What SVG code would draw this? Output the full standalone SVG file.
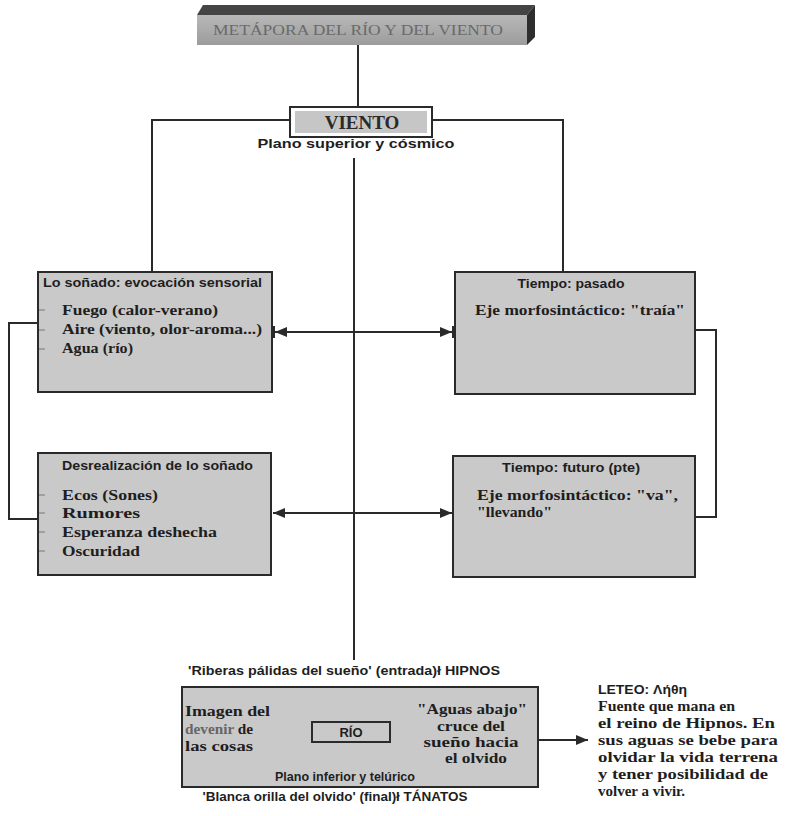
<svg xmlns="http://www.w3.org/2000/svg" width="785" height="816" viewBox="0 0 785 816">
<style>
.ln{stroke:#2a2a2a;stroke-width:2;fill:none}
.box{fill:#c9c9c9;stroke:#2a2a2a;stroke-width:2}
.tt{font-family:"Liberation Sans",Arial,sans-serif;font-size:13px;fill:#1e1e1e;font-weight:bold}
.it{font-family:"Liberation Serif","Times New Roman",serif;font-size:15px;font-weight:bold;fill:#1e1e1e}
.sn{font-family:"Liberation Sans",Arial,sans-serif;font-size:13px;fill:#1e1e1e;font-weight:bold}
.tick{stroke:#777;stroke-width:1}
</style>
<defs>
<marker id="ahb" viewBox="0 0 14 12" refX="14" refY="6" markerWidth="14" markerHeight="12" markerUnits="userSpaceOnUse" orient="auto-start-reverse">
<path d="M0,1 L12,6 L0,11 Z M12,0 H14 V12 H12 Z" fill="#2a2a2a"/>
</marker>
<marker id="ah" viewBox="0 0 12 10" refX="12" refY="5" markerWidth="12" markerHeight="10" markerUnits="userSpaceOnUse" orient="auto-start-reverse">
<path d="M0,0 L12,5 L0,10 Z" fill="#2a2a2a"/>
</marker>
<linearGradient id="bn" x1="0" y1="0" x2="0" y2="1">
<stop offset="0" stop-color="#b8b8b8"/><stop offset="1" stop-color="#9c9c9c"/>
</linearGradient>
</defs>

<g id="connectors">
<line class="ln" x1="358" y1="45" x2="358" y2="107"/>
<polyline class="ln" points="290,120 152,120 152,272"/>
<polyline class="ln" points="432,120 563,120 563,272"/>
<line class="ln" x1="354" y1="158" x2="354" y2="660"/>
<polyline class="ln" points="38,323 9,323 9,519 38,519"/>
<polyline class="ln" points="695,330 716,330 716,517 695,517"/>
<line class="ln" x1="273" y1="332" x2="454" y2="332" marker-start="url(#ahb)" marker-end="url(#ahb)"/>
<line class="ln" x1="273" y1="513" x2="452" y2="513" marker-start="url(#ah)" marker-end="url(#ah)"/>
<line class="ln" x1="312" y1="732" x2="283" y2="732" marker-end="url(#ah)"/>
<line class="ln" x1="390" y1="732" x2="427" y2="732" marker-end="url(#ah)"/>
<line class="ln" x1="538" y1="740" x2="588" y2="740" marker-end="url(#ah)"/>
</g>

<g id="titulo">
<polygon points="197,15 203,5 535,5 527,15" fill="#444"/>
<polygon points="527,15 535,5 535,37 527,45" fill="#2e2e2e"/>
<rect x="197" y="15" width="330" height="30" fill="url(#bn)"/>
<text x="358" y="35" text-anchor="middle" font-family="Liberation Serif,'Times New Roman',serif" font-size="15" fill="#6a6a6a" textLength="290" lengthAdjust="spacingAndGlyphs">METÁPORA DEL RÍO Y DEL VIENTO</text>
</g>

<g id="viento">
<rect x="290" y="107" width="142" height="30" fill="#fff" stroke="#2a2a2a" stroke-width="2"/>
<rect x="295" y="111" width="132" height="22" fill="#c6c6c6"/>
<text x="362" y="129" text-anchor="middle" font-family="Liberation Serif,'Times New Roman',serif" font-size="19" font-weight="bold" fill="#2a2a2a">VIENTO</text>
<text x="356" y="148" text-anchor="middle" class="sn" font-size="14" textLength="197" lengthAdjust="spacingAndGlyphs">Plano superior y cósmico</text>
</g>

<g id="sonado">
<rect class="box" x="38" y="272" width="234" height="120"/>
<text class="tt" x="43" y="287" textLength="219" lengthAdjust="spacingAndGlyphs">Lo soñado: evocación sensorial</text>
<line class="tick" x1="39" y1="310" x2="45" y2="310"/>
<line class="tick" x1="39" y1="330" x2="45" y2="330"/>
<line class="tick" x1="39" y1="349" x2="45" y2="349"/>
<text class="it" x="62" y="315" textLength="156" lengthAdjust="spacingAndGlyphs">Fuego (calor-verano)</text>
<text class="it" x="62" y="334" textLength="200" lengthAdjust="spacingAndGlyphs">Aire (viento, olor-aroma...)</text>
<text class="it" x="62" y="353" textLength="71" lengthAdjust="spacingAndGlyphs">Agua (río)</text>
</g>

<g id="desrealizacion">
<rect class="box" x="38" y="453" width="233" height="122"/>
<text class="tt" x="62" y="470" textLength="191" lengthAdjust="spacingAndGlyphs">Desrealización de lo soñado</text>
<line class="tick" x1="39" y1="495" x2="45" y2="495"/>
<line class="tick" x1="39" y1="513" x2="45" y2="513"/>
<line class="tick" x1="39" y1="532" x2="45" y2="532"/>
<line class="tick" x1="39" y1="551" x2="45" y2="551"/>
<text class="it" x="62" y="500" textLength="96" lengthAdjust="spacingAndGlyphs">Ecos (Sones)</text>
<text class="it" x="62" y="518" textLength="78" lengthAdjust="spacingAndGlyphs">Rumores</text>
<text class="it" x="62" y="537" textLength="155" lengthAdjust="spacingAndGlyphs">Esperanza deshecha</text>
<text class="it" x="62" y="556" textLength="78" lengthAdjust="spacingAndGlyphs">Oscuridad</text>
</g>

<g id="pasado">
<rect class="box" x="455" y="272" width="240" height="122"/>
<text class="tt" x="571" y="288" text-anchor="middle" textLength="107" lengthAdjust="spacingAndGlyphs">Tiempo: pasado</text>
<text class="it" x="475" y="315" textLength="210" lengthAdjust="spacingAndGlyphs">Eje morfosintáctico: "traía"</text>
</g>

<g id="futuro">
<rect class="box" x="453" y="456" width="242" height="121"/>
<text class="tt" x="571" y="472" text-anchor="middle" textLength="138" lengthAdjust="spacingAndGlyphs">Tiempo: futuro (pte)</text>
<text class="it" x="477" y="500" textLength="201" lengthAdjust="spacingAndGlyphs">Eje morfosintáctico: "va",</text>
<text class="it" x="477" y="517" textLength="75" lengthAdjust="spacingAndGlyphs">"llevando"</text>
</g>

<g id="rio">
<text class="sn" x="344" y="675" text-anchor="middle" textLength="312" lengthAdjust="spacingAndGlyphs">'Riberas pálidas del sueño' (entrada)ł HIPNOS</text>
<rect class="box" x="182" y="687" width="356" height="100" fill="#cacaca"/>
<text class="it" x="185" y="716" textLength="85" lengthAdjust="spacingAndGlyphs">Imagen del</text>
<text class="it" x="185" y="734" textLength="68" lengthAdjust="spacingAndGlyphs"><tspan fill="#666">devenir</tspan> de</text>
<text class="it" x="185" y="751" textLength="68" lengthAdjust="spacingAndGlyphs">las cosas</text>
<rect x="312" y="722" width="78" height="20" fill="#c9c9c9" stroke="#2a2a2a" stroke-width="2"/>
<text class="sn" x="351" y="737" text-anchor="middle">RÍO</text>
<text class="it" x="472" y="714" text-anchor="middle" textLength="110" lengthAdjust="spacingAndGlyphs">"Aguas abajo"</text>
<text class="it" x="471" y="731" text-anchor="middle" textLength="68" lengthAdjust="spacingAndGlyphs">cruce del</text>
<text class="it" x="471" y="747" text-anchor="middle" textLength="95" lengthAdjust="spacingAndGlyphs">sueño hacia</text>
<text class="it" x="476" y="763" text-anchor="middle" textLength="62" lengthAdjust="spacingAndGlyphs">el olvido</text>
<text class="sn" x="345" y="781" text-anchor="middle" font-size="12" textLength="140" lengthAdjust="spacingAndGlyphs">Plano inferior y telúrico</text>
<text class="sn" x="335" y="801" text-anchor="middle" font-size="12" textLength="265" lengthAdjust="spacingAndGlyphs">'Blanca orilla del olvido' (final)ł TÁNATOS</text>
</g>

<g id="leteo">
<text class="sn" x="598" y="694" font-weight="normal" textLength="89" lengthAdjust="spacingAndGlyphs">LETEO: Λήθη</text>
<text class="it" x="598" y="711" textLength="137" lengthAdjust="spacingAndGlyphs">Fuente que mana en</text>
<text class="it" x="598" y="728" textLength="177" lengthAdjust="spacingAndGlyphs">el reino de Hipnos. En</text>
<text class="it" x="598" y="745" textLength="180" lengthAdjust="spacingAndGlyphs">sus aguas se bebe para</text>
<text class="it" x="598" y="762" textLength="180" lengthAdjust="spacingAndGlyphs">olvidar la vida terrena</text>
<text class="it" x="598" y="779" textLength="170" lengthAdjust="spacingAndGlyphs">y tener posibilidad de</text>
<text class="it" x="598" y="796">volver a vivir.</text>
</g>
</svg>
